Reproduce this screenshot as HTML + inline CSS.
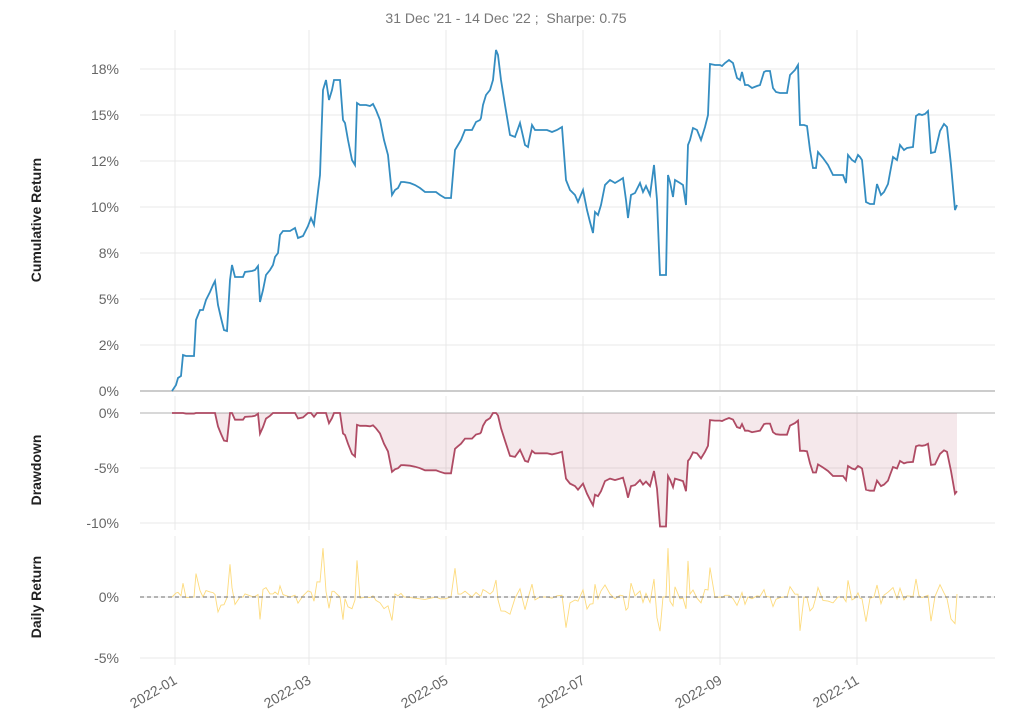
<!DOCTYPE html>
<html><head><meta charset="utf-8"><style>
html,body{margin:0;padding:0;background:#fff;}
svg{display:block;font-family:"Liberation Sans",sans-serif;}
</style></head><body>
<svg id="s" width="1012" height="721" xmlns="http://www.w3.org/2000/svg">
<text x="506" y="23" text-anchor="middle" font-size="14" fill="#777">31 Dec '21 - 14 Dec '22 ;&#160; Sharpe: 0.75</text>
<g id="grid" stroke="#e9e9e9" stroke-width="1"></g>
<g id="ticks" font-size="14" fill="#666"></g>
<g font-size="14" font-weight="bold" fill="#222">
<text transform="translate(41,220) rotate(-90)" text-anchor="middle">Cumulative Return</text>
<text transform="translate(41,470) rotate(-90)" text-anchor="middle">Drawdown</text>
<text transform="translate(41,597) rotate(-90)" text-anchor="middle">Daily Return</text>
</g>
<g id="series"></g>
</svg>
<script>
var pts=[[172,391],[176,385],[178,378],[181,376],[183,355],[186,356],[194,356],[196,320],[200,310],[203,310],[206,300],[210,292],[213,285],[215,281],[218,305],[221,318],[224,330],[227,331],[230,280],[232,265],[235,277],[240,277],[243,277],[245,272],[252,271],[255,270],[258,266],[260,302],[263,290],[266,275],[270,270],[273,265],[275,257],[278,253],[280,235],[283,231],[290,231],[295,228],[298,238],[303,236],[308,226],[311,218],[314,225],[317,200],[320,175],[323,90],[326,80],[329,100],[332,90],[334,80],[340,80],[343,120],[345,123],[348,140],[352,160],[355,165],[357,103],[360,105],[366,105],[370,106],[373,104],[376,110],[380,120],[384,140],[388,155],[392,195],[395,190],[398,188],[401,182],[404,182],[410,183],[415,185],[420,188],[425,192],[436,192],[440,195],[445,198],[451,198],[455,150],[458,145],[461,140],[465,130],[472,130],[476,122],[480,120],[481,118],[483,105],[486,95],[490,90],[493,80],[496,50],[498,55],[501,80],[505,105],[510,135],[515,137],[520,123],[525,145],[528,147],[532,125],[535,130],[540,130],[547,130],[552,132],[557,130],[562,127],[566,180],[570,190],[575,195],[578,202],[583,190],[587,210],[590,222],[593,233],[595,212],[598,215],[601,205],[605,185],[610,180],[615,183],[620,180],[623,178],[626,200],[628,218],[631,195],[635,193],[640,183],[643,192],[646,186],[650,195],[654,165],[657,200],[660,275],[663,275],[666,275],[668,175],[670,182],[673,197],[675,180],[680,183],[683,185],[686,205],[688,145],[690,140],[693,128],[697,130],[701,140],[705,127],[708,115],[710,64],[715,65],[720,65],[722,66],[725,63],[729,60],[733,63],[737,78],[740,80],[742,72],[745,85],[748,85],[752,88],[757,86],[760,85],[764,72],[766,71],[770,71],[773,88],[776,92],[780,93],[784,93],[787,93],[790,75],[795,70],[798,65],[800,125],[804,125],[807,126],[810,150],[813,168],[816,168],[818,152],[823,158],[828,165],[833,175],[838,175],[843,175],[846,183],[848,155],[852,160],[855,162],[858,155],[860,157],[862,160],[866,202],[870,204],[874,204],[877,184],[881,195],[884,192],[888,184],[890,173],[893,157],[897,160],[900,145],[904,150],[907,148],[913,147],[916,116],[919,114],[922,115],[925,114],[928,111],[931,153],[935,152],[940,131],[944,124],[947,127],[951,165],[955,210],[957,205]];
var NS="http://www.w3.org/2000/svg";
function el(p,t,a,txt){var e=document.createElementNS(NS,t);for(var k in a)e.setAttribute(k,a[k]);if(txt!=null)e.textContent=txt;document.getElementById(p).appendChild(e);return e;}
var L=140,R=995;
var xs=[175,309,446,583,720,857],xl=["2022-01","2022-03","2022-05","2022-07","2022-09","2022-11"];
[[30,391],[396,530],[536,665]].forEach(function(p){xs.forEach(function(x){el("grid","line",{x1:x,x2:x,y1:p[0],y2:p[1]});});});
var cy=[[69,"18%"],[115,"15%"],[161,"12%"],[207,"10%"],[253,"8%"],[299,"5%"],[345,"2%"],[391,"0%"]];
cy.forEach(function(c){el("grid","line",{x1:L,x2:R,y1:c[0],y2:c[0]});el("ticks","text",{x:119,y:c[0]+5,"text-anchor":"end"},c[1]);});
[[413,"0%"],[468,"-5%"],[523,"-10%"]].forEach(function(c){el("grid","line",{x1:L,x2:R,y1:c[0],y2:c[0]});el("ticks","text",{x:119,y:c[0]+5,"text-anchor":"end"},c[1]);});
[[597,"0%"],[658,"-5%"]].forEach(function(c){el("grid","line",{x1:L,x2:R,y1:c[0],y2:c[0]});el("ticks","text",{x:119,y:c[0]+5,"text-anchor":"end"},c[1]);});
xs.forEach(function(x,i){el("ticks","text",{x:x+3,y:683,"text-anchor":"end",transform:"rotate(-30 "+(x+3)+" 683)"},xl[i]);});
el("series","line",{x1:L,x2:R,y1:391,y2:391,stroke:"#ccc","stroke-width":2});
el("series","line",{x1:L,x2:R,y1:413,y2:413,stroke:"#ccc","stroke-width":1.5});
var mx=1,dd=[];
pts.forEach(function(p){var v=1+(391-p[1])/46*0.025;if(v>mx)mx=v;var d=v/mx-1;dd.push([p[0],413-d*100*11]);});
var dstr=dd.map(function(p){return p[0]+","+p[1].toFixed(1);}).join(" ");
el("series","polygon",{points:"172,413 "+dstr+" 957,413",fill:"#af4b64","fill-opacity":0.13});
el("series","polyline",{points:dstr,fill:"none",stroke:"#af4b64","stroke-width":1.8});
var dr=["172,597"];
for(var i=1;i<pts.length;i++){var a=1+(391-pts[i-1][1])/46*0.025,b=1+(391-pts[i][1])/46*0.025;var r=Math.max(-0.028,Math.min(0.04,b/a-1));dr.push(pts[i][0]+","+(597-r*100*12.2).toFixed(1));}
el("series","polyline",{points:dr.join(" "),fill:"none",stroke:"#fcd25c","stroke-width":0.9,"stroke-opacity":0.8});
el("series","line",{x1:L,x2:R,y1:597,y2:597,stroke:"#888","stroke-width":1.3,"stroke-dasharray":"4,3"});
el("series","polyline",{points:pts.map(function(p){return p.join(",");}).join(" "),fill:"none",stroke:"#348dc1","stroke-width":1.8});
</script>
</body></html>
